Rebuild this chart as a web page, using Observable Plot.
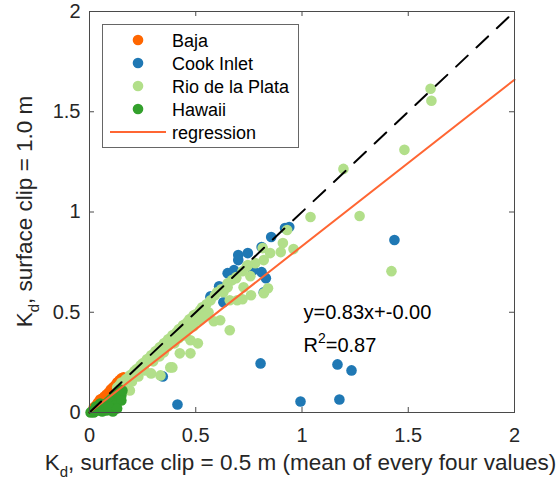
<!DOCTYPE html>
<html><head><meta charset="utf-8">
<script src="https://cdn.jsdelivr.net/npm/d3@7"></script>
<script src="https://cdn.jsdelivr.net/npm/@observablehq/plot@0.6"></script>
<style>body{margin:0;background:#fff;} svg{display:block}</style>
</head><body><div id="chart"></div>
<script>
const seriesNames = ["Baja", "Cook Inlet", "Rio de la Plata", "Hawaii"];
const seriesColors = ["#ff6600", "#1f78b4", "#b2df8a", "#33a02c"];

const bajaX = [0.02,0.03,0.04,0.05,0.06,0.07,0.08,0.09,0.10,0.11,0.12,0.13,0.14,0.15,0.16,0.05,0.08,0.10,0.12,0.14];
const bajaY = [0.025,0.035,0.05,0.055,0.07,0.08,0.09,0.10,0.115,0.125,0.135,0.15,0.16,0.17,0.175,0.065,0.085,0.10,0.125,0.145];

const cookX = [0.414,0.993,1.176,1.167,1.233,0.805,1.435,0.345,0.57,0.61,0.615,0.63,0.65,0.68,0.70,0.70,0.745,0.77,0.81,0.83,0.82,0.81,0.855,0.92,0.94,0.57];
const cookY = [0.04,0.055,0.065,0.24,0.21,0.245,0.86,0.18,0.58,0.63,0.625,0.55,0.695,0.71,0.785,0.76,0.795,0.71,0.70,0.67,0.60,0.825,0.875,0.92,0.925,0.575];

const rioX = [0.13,0.14,0.15,0.16,0.17,0.18,0.19,0.20,0.21,0.22,0.23,0.24,0.25,0.26,0.27,0.28,0.29,0.30,0.31,0.32,0.33,0.34,0.35,0.36,0.37,0.38,0.39,0.40,0.41,0.42,0.43,0.44,0.45,0.46,0.47,0.48,0.49,0.50,0.52,0.53,0.55,0.57,0.59,0.60,0.62,0.63,0.65,0.67,0.69,0.72,0.74,
  0.16,0.19,0.20,0.23,0.26,0.28,0.29,0.32,0.334,0.38,0.39,0.425,0.44,0.475,0.475,0.51,0.585,0.615,0.66,0.66,0.695,0.72,0.76,0.82,0.84,0.757,0.725,0.65,0.69,0.745,0.78,0.82,0.85,0.90,0.815,0.91,0.96,0.93,1.04,1.271,1.195,1.482,1.605,1.609,1.421,0.37,0.42,0.47,0.52,0.56,0.54,
  0.25,0.30,0.35,0.40,0.45,0.22,0.33,0.43,0.49];
const rioY = [0.125,0.135,0.15,0.145,0.165,0.17,0.185,0.19,0.205,0.215,0.22,0.235,0.245,0.25,0.265,0.27,0.285,0.29,0.305,0.31,0.325,0.33,0.345,0.35,0.365,0.37,0.385,0.39,0.40,0.415,0.42,0.435,0.44,0.45,0.465,0.47,0.485,0.49,0.51,0.525,0.54,0.56,0.585,0.60,0.615,0.60,0.645,0.66,0.675,0.705,0.73,
  0.125,0.11,0.155,0.18,0.21,0.26,0.195,0.285,0.185,0.225,0.225,0.295,0.385,0.295,0.36,0.345,0.455,0.46,0.41,0.56,0.56,0.565,0.585,0.595,0.62,0.68,0.625,0.625,0.67,0.735,0.745,0.76,0.795,0.80,0.82,0.845,0.815,0.91,0.975,0.98,1.215,1.31,1.615,1.555,0.705,0.33,0.37,0.42,0.46,0.50,0.48,
  0.215,0.255,0.30,0.345,0.385,0.19,0.28,0.38,0.43];

const hawX = [0.005,0.01,0.02,0.03,0.04,0.05,0.06,0.07,0.08,0.09,0.10,0.11,0.12,0.13,0.14,0.145,0.15,0.14,0.13,0.12,0.10,0.08,0.06,0.11,0.05,0.03,0.09,0.15,0.155,0.15,0.13,0.02];
const hawY = [0.0,0.005,0.01,0.02,0.01,0.025,0.035,0.02,0.045,0.055,0.065,0.075,0.085,0.095,0.105,0.115,0.085,0.065,0.05,0.035,0.02,0.01,0.005,0.005,0.045,0.03,0.03,0.10,0.11,0.06,0.02,0.0];

const regSlope = 0.83, regIntercept = -0.00;
const regColor = "#ff6633";
const regLabel = "regression";
const xTicks = [0, 0.5, 1, 1.5, 2];
const xTickLabels = ["0", "0.5", "1", "1.5", "2"];
const yTicks = [0, 0.5, 1, 1.5, 2];
const yTickLabels = ["0", "0.5", "1", "1.5", "2"];
const eqText = "y=0.83x+-0.00";
const r2Text = "0.87";
const xLabelMain = "K", xLabelSub = "d", xLabelRest = ", surface clip = 0.5 m (mean of every four values)";
const yLabelMain = "K", yLabelSub = "d", yLabelRest = ", surface clip = 1.0 m";

const points = [];
[[bajaX, bajaY], [cookX, cookY], [rioX, rioY], [hawX, hawY]].forEach(([xs, ys], k) =>
  xs.forEach((x, i) => points.push({x, y: ys[i], s: seriesNames[k]})));
const regLine = [0, 2].map(x => ({x, y: regSlope * x + regIntercept}));
const oneToOne = [0, 2].map(x => ({x, y: x}));
const notes = [{x: 1.007, y: 0.50, t: eqText}, {x: 1.007, y: 0.332, t: "R2=" + r2Text}];

const W = 560, H = 481, mL = 89, mR = 46, mT = 11, mB = 69;
const fw = W - mL - mR, fh = H - mT - mB;
const axisColor = "#4a4a4a";
const font = "'Liberation Sans', Arial, Helvetica, sans-serif";

const plot = Plot.plot({
  width: W, height: H, marginLeft: mL, marginRight: mR, marginTop: mT, marginBottom: mB,
  style: {fontFamily: font, fontSize: "20px", color: "#262626", background: "#fff"},
  x: {domain: [0, 2]}, y: {domain: [0, 2]},
  color: {domain: seriesNames, range: seriesColors},
  marks: [
    Plot.dot(points, {x: "x", y: "y", fill: "s", r: 5.3}),
    Plot.line(regLine, {x: "x", y: "y", stroke: regColor, strokeWidth: 2}),
    Plot.line(oneToOne, {x: "x", y: "y", stroke: "#000", strokeWidth: 2, strokeDasharray: "16,12"}),
    Plot.frame({stroke: axisColor}),
    Plot.ruleX(xTicks, {insetTop: fh - 5, stroke: axisColor}),
    Plot.ruleX(xTicks, {insetBottom: fh - 5, stroke: axisColor}),
    Plot.ruleY(yTicks, {insetRight: fw - 5, stroke: axisColor}),
    Plot.ruleY(yTicks, {insetLeft: fw - 5, stroke: axisColor}),
    Plot.axisX({ticks: xTicks, tickFormat: d => xTickLabels[xTicks.indexOf(d)], tickSize: 0, tickPadding: 15, label: null}),
    Plot.axisY({ticks: yTicks, tickFormat: d => yTickLabels[yTicks.indexOf(d)], tickSize: 0, tickPadding: 9, label: null}),
    Plot.text(notes, {x: "x", y: "y", text: "t", textAnchor: "start", fontSize: 20, fill: "#000"})
  ]
});

const svg = d3.select(plot);
// superscript in R^2
svg.selectAll("text").filter(function() { return this.textContent === "R2=" + r2Text; })
  .each(function() {
    const t = d3.select(this);
    t.text("");
    t.append("tspan").text("R");
    t.append("tspan").attr("font-size", 14).attr("dy", -9).text("2");
    t.append("tspan").attr("dy", 9).text("=" + r2Text);
  });

// axis labels
const xl = svg.append("text").attr("x", mL + fw / 2 - 1).attr("y", 470).attr("text-anchor", "middle")
  .attr("font-size", 22.5).attr("fill", "#262626").attr("font-family", font);
xl.append("tspan").text(xLabelMain);
xl.append("tspan").attr("font-size", 15).attr("dy", 7).text(xLabelSub);
xl.append("tspan").attr("dy", -7).text(xLabelRest);

const yl = svg.append("text").attr("transform", `translate(32,${mT + fh / 2}) rotate(-90)`).attr("text-anchor", "middle")
  .attr("font-size", 22.5).attr("fill", "#262626").attr("font-family", font);
yl.append("tspan").text(yLabelMain);
yl.append("tspan").attr("font-size", 15).attr("dy", 7).text(yLabelSub);
yl.append("tspan").attr("dy", -7).text(yLabelRest);

// legend
const lg = svg.append("g").attr("font-family", font).attr("font-size", 18).attr("text-anchor", "start");
lg.append("rect").attr("x", 102.5).attr("y", 24.5).attr("width", 196).attr("height", 123)
  .attr("fill", "#fff").attr("stroke", "#666");
seriesNames.forEach((name, i) => {
  const cy = 40 + i * 23;
  lg.append("circle").attr("cx", 138).attr("cy", cy).attr("r", 5.3).attr("fill", seriesColors[i]);
  lg.append("text").attr("x", 172).attr("y", cy + 6.5).attr("fill", "#000").attr("text-anchor", "start").text(name);
});
const ry = 40 + 4 * 23;
lg.append("line").attr("x1", 110).attr("x2", 166).attr("y1", ry).attr("y2", ry).attr("stroke", regColor).attr("stroke-width", 2);
lg.append("text").attr("x", 172).attr("y", ry + 6.5).attr("fill", "#000").attr("text-anchor", "start").text(regLabel);

document.getElementById("chart").appendChild(plot);
</script>
</body></html>
